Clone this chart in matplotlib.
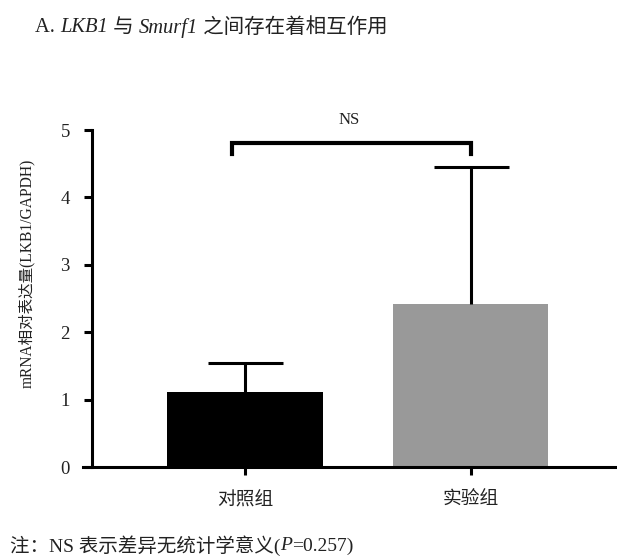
import matplotlib
matplotlib.use("Agg")
import matplotlib.pyplot as plt

# data
groups = ['对照组', '实验组']
means = [1.11, 2.42]
sd_up = [0.43, 2.03]
bar_colors = ['#000000', '#999999']
yticks = [0, 1, 2, 3, 4, 5]
sig_label = 'NS'

serif_cjk = ['Liberation Serif', 'Noto Sans CJK SC']
plt.rcParams['font.family'] = serif_cjk

fig = plt.figure(figsize=(6.17, 5.6), dpi=100)
ax = fig.add_axes([92/617, 1-467/560, 1-92/617, (467-130)/560])

x = [0, 1]
ax.bar(x, means, width=0.69, color=bar_colors, zorder=2)
eb = ax.errorbar(x, means, yerr=[[0, 0], sd_up], fmt='none', ecolor='black',
                 elinewidth=2.2, capsize=27, capthick=2.2, zorder=3)
# only the upper caps are shown
eb[1][0].set_visible(False)

ax.set_xlim(-0.68, 1.65)
ax.set_ylim(0, 5)
ax.set_yticks(yticks)
ax.set_xticks(x)
ax.set_xticklabels(groups, fontsize=13.5, color='#222222')
for lab in ax.get_yticklabels():
    lab.set_fontsize(13.5)
    lab.set_color('#222222')

for side in ['top', 'right']:
    ax.spines[side].set_visible(False)
for side in ['left', 'bottom']:
    ax.spines[side].set_linewidth(2.2)
ax.spines['bottom'].set_bounds(-0.72, 1.65)
ax.tick_params(axis='y', length=6, width=2.2, pad=10)
ax.tick_params(axis='x', length=6, width=2.2, pad=12)

ax.set_ylabel('mRNA相对表达量(LKB1/GAPDH)', fontsize=11.2, color='#222222')
ax.yaxis.set_label_coords(-(92-35)/(617-92), (467-273)/(467-130))

# significance bracket
ax.plot([-0.06, -0.06, 1.0, 1.0], [4.64, 4.81, 4.81, 4.64], color='black',
        lw=3, clip_on=False, solid_joinstyle='miter')
ax.text(0.46, 5.03, sig_label, ha='center', va='bottom', fontsize=12,
        color='#222222')

# title, pieces with italic gene names
parts = [('A. ', 'normal'), ('LKB1', 'italic'), (' 与 ', 'normal'),
         ('Smurf1', 'italic'), (' 之间存在着相互作用', 'normal')]
prev = fig.text(35/617, 1-28/560, parts[0][0], fontsize=14.8, va='center',
                color='#222222')
for txt, st in parts[1:]:
    prev = ax.annotate(txt, xy=(1, 0.5), xycoords=prev, va='center',
                       ha='left', fontsize=14.8, style=st, color='#222222')

# footnote
notes = [('注：NS 表示差异无统计学意义(', 'normal'), ('P', 'italic'),
         ('=0.257)', 'normal')]
prev = fig.text(10/617, 1-546/560, notes[0][0], fontsize=14, va='center',
                color='#222222')
for txt, st in notes[1:]:
    prev = ax.annotate(txt, xy=(1, 0.5), xycoords=prev, va='center',
                       ha='left', fontsize=14, style=st, color='#222222')

fig.savefig('out.png', dpi=100)
